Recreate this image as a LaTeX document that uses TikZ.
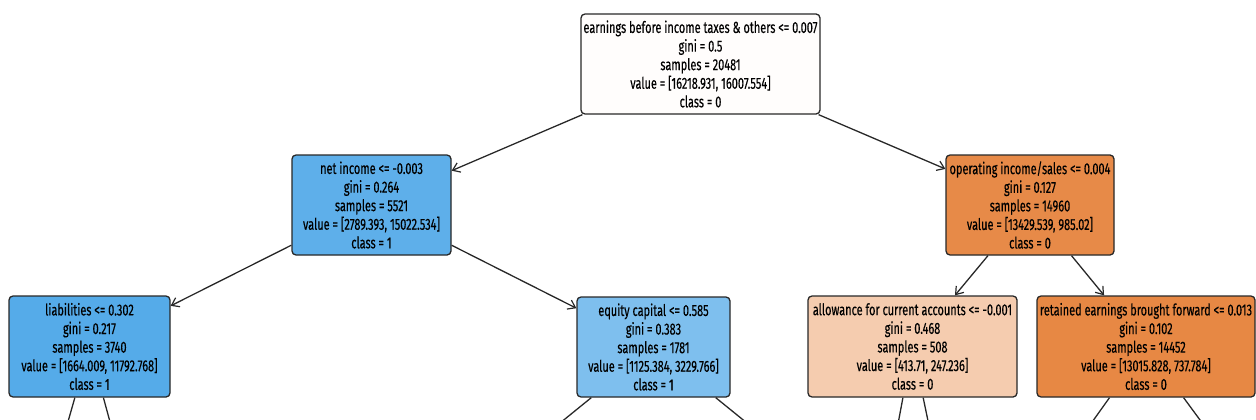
\documentclass[tikz,border=0pt]{standalone}
\usepackage{fontspec}
\setmainfont[FakeStretch=0.685,FakeBold=0.3]{Fira Sans}
\usetikzlibrary{arrows.meta}
\definecolor{cRoot}{RGB}{255,253,252}
\definecolor{cNet}{RGB}{94,175,234}
\definecolor{cOp}{RGB}{231,138,72}
\definecolor{cLiab}{RGB}{85,171,233}
\definecolor{cEq}{RGB}{126,191,238}
\definecolor{cAll}{RGB}{245,204,175}
\definecolor{cRet}{RGB}{231,136,68}
\definecolor{edgecol}{RGB}{40,40,40}
\tikzset{
  treebox/.style={draw=edgecol, line width=1.3pt, rounded corners=4pt, align=center,
    inner sep=0pt, font=\fontsize{16}{18.6}\selectfont, text=black},
  treeedge/.style={draw=edgecol, line width=1.3pt, -{Straight Barb[length=7pt,width=10pt,line width=1.2pt]}},
  plainedge/.style={draw=edgecol, line width=1.3pt}
}
\begin{document}
\begin{tikzpicture}[x=1pt,y=-1pt]
\useasboundingbox (0,0) rectangle (1256,420);
\clip (0,0) rectangle (1256,420);
\node[treebox, fill=cRoot, minimum width=239pt, minimum height=100pt] (root) at (700.5,64)
  {earnings before income taxes \& others <= 0.007\\gini = 0.5\\samples = 20481\\value = [16218.931, 16007.554]\\class = 0};
\node[treebox, fill=cNet, minimum width=159pt, minimum height=100pt] (net) at (371.5,205)
  {net income <= -0.003\\gini = 0.264\\samples = 5521\\value = [2789.393, 15022.534]\\class = 1};
\node[treebox, fill=cOp, minimum width=168pt, minimum height=100pt] (op) at (1030,205)
  {operating income/sales <= 0.004\\gini = 0.127\\samples = 14960\\value = [13429.539, 985.02]\\class = 0};
\node[treebox, fill=cLiab, minimum width=161pt, minimum height=101pt] (liab) at (89.5,346.5)
  {liabilities <= 0.302\\gini = 0.217\\samples = 3740\\value = [1664.009, 11792.768]\\class = 1};
\node[treebox, fill=cEq, minimum width=153pt, minimum height=100pt] (eq) at (653.5,347)
  {equity capital <= 0.585\\gini = 0.383\\samples = 1781\\value = [1125.384, 3229.766]\\class = 1};
\node[treebox, fill=cAll, minimum width=209pt, minimum height=101pt] (allow) at (912.5,346.5)
  {allowance for current accounts <= -0.001\\gini = 0.468\\samples = 508\\value = [413.71, 247.236]\\class = 0};
\node[treebox, fill=cRet, minimum width=218pt, minimum height=101pt] (ret) at (1146,346.5)
  {retained earnings brought forward <= 0.013\\gini = 0.102\\samples = 14452\\value = [13015.828, 737.784]\\class = 0};
\coordinate (liabA) at (49,488);
\coordinate (liabB) at (128,488);
\coordinate (eqA) at (480,488);
\coordinate (eqB) at (827,488);
\coordinate (allA) at (886,488);
\coordinate (allB) at (942,488);
\coordinate (retA) at (1045,488);
\coordinate (retB) at (1250,488);
\draw[treeedge] (root) -- (net);
\draw[treeedge] (root) -- (op);
\draw[treeedge] (net) -- (liab);
\draw[treeedge] (net) -- (eq);
\draw[treeedge] (op) -- (allow);
\draw[treeedge] (op) -- (ret);
\draw[plainedge] (liab) -- (liabA);
\draw[plainedge] (liab) -- (liabB);
\draw[plainedge] (eq) -- (eqA);
\draw[plainedge] (eq) -- (eqB);
\draw[plainedge] (allow) -- (allA);
\draw[plainedge] (allow) -- (allB);
\draw[plainedge] (ret) -- (retA);
\draw[plainedge] (ret) -- (retB);
\end{tikzpicture}
\end{document}
